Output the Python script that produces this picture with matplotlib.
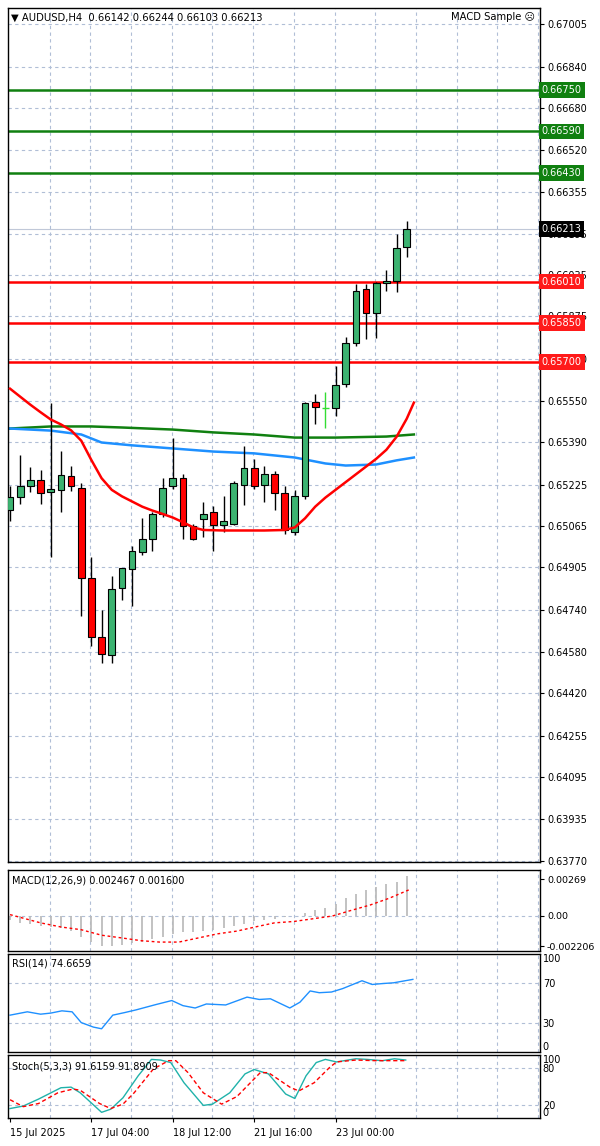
import matplotlib
matplotlib.use("Agg")
import matplotlib.pyplot as plt
from matplotlib.patches import Rectangle

# ---------------- data ----------------
opens  = [0.65129,0.65176,0.65218,0.65245,0.65195,0.65203,0.65257,0.65214,0.64863,0.64635,
          0.64566,0.64825,0.64898,0.64963,0.65017,0.65110,0.65218,0.65249,0.65064,0.65091,
          0.65118,0.65068,0.65075,0.65222,0.65288,0.65222,0.65268,0.65191,0.65044,0.65180,
          0.65543,0.65523,0.65523,0.65616,0.65774,0.65983,0.65890,0.66006,0.66014,0.66142]
highs  = [0.65218,0.65338,0.65292,0.65280,0.65539,0.65357,0.65296,0.65230,0.64944,0.64740,
          0.64871,0.64902,0.64990,0.65098,0.65118,0.65249,0.65404,0.65265,0.65072,0.65160,
          0.65141,0.65180,0.65238,0.65373,0.65326,0.65299,0.65276,0.65218,0.65203,0.65546,
          0.65574,0.65585,0.65682,0.65797,0.66002,0.66002,0.66010,0.66053,0.66195,0.66244]
lows   = [0.65083,0.65149,0.65195,0.65149,0.64944,0.65118,0.65199,0.64716,0.64600,0.64535,
          0.64535,0.64778,0.64755,0.64955,0.64967,0.65100,0.65207,0.65017,0.65010,0.65021,
          0.64967,0.65044,0.65068,0.65145,0.65210,0.65160,0.65126,0.65033,0.65029,0.65170,
          0.65461,0.65445,0.65492,0.65604,0.65759,0.65789,0.65793,0.65972,0.65968,0.66103]
closes = [0.65176,0.65218,0.65245,0.65191,0.65207,0.65261,0.65218,0.64863,0.64635,0.64570,
          0.64821,0.64902,0.64967,0.65017,0.65110,0.65214,0.65249,0.65064,0.65017,0.65110,
          0.65068,0.65083,0.65230,0.65288,0.65218,0.65265,0.65191,0.65048,0.65183,0.65539,
          0.65527,0.65525,0.65612,0.65774,0.65975,0.65890,0.66006,0.66014,0.66141,0.66213]

ma_red_x = [0,1,2,3,4,5,6,7,8,9,10,11,12,13,14,15,16,17,18,19,21,23,25,27,28,29,30,31,32,33,34,35,36,37,38,39,39.7]
ma_red_y = [0.65596,0.65565,0.65534,0.65505,0.65477,0.65458,0.65435,0.65395,0.65320,0.65250,
            0.65205,0.65180,0.65160,0.65140,0.65125,0.65112,0.65098,0.65080,0.65060,0.65050,
            0.65048,0.65048,0.65048,0.65050,0.65060,0.65095,0.65140,0.65175,0.65205,0.65235,
            0.65265,0.65295,0.65325,0.65360,0.65410,0.65480,0.65542]
ma_green_x = [0,4,8,11,16,20,24,28,32,37,39.7]
ma_green_y = [0.65442,0.65450,0.65450,0.65446,0.65438,0.65427,0.65419,0.65407,0.65407,0.65411,0.65419]
ma_blue_x = [0,4,7,9,12,16,20,24,28,31,33,36,38,39.7]
ma_blue_y = [0.65442,0.65434,0.65419,0.65388,0.65377,0.65365,0.65353,0.65346,0.65330,0.65307,
             0.65299,0.65303,0.65319,0.65330]

resist_levels = [0.66750, 0.66590, 0.66430]
support_levels = [0.66010, 0.65850, 0.65700]
price_ticks = [0.67005,0.66840,0.66680,0.66520,0.66355,0.66195,0.66035,0.65875,0.65710,0.65550,
               0.65390,0.65225,0.65065,0.64905,0.64740,0.64580,0.64420,0.64255,0.64095,0.63935,0.63770]

macd_hist = [-0.0003,-0.0005,-0.0006,-0.0007,-0.0008,-0.0009,-0.0011,-0.0015,-0.0019,-0.0022,
             -0.0022,-0.0021,-0.0020,-0.0019,-0.0017,-0.0015,-0.0013,-0.0012,-0.0012,-0.0011,
             -0.0010,-0.0009,-0.0007,-0.0006,-0.0004,-0.0003,-0.0002,-0.0001,0.0000,0.0002,
             0.0004,0.0006,0.0009,0.0013,0.0016,0.0019,0.0021,0.0023,0.0025,0.0029]
macd_sig_x = [0,1,3,5,7,9,11,12.9,14.7,16.6,18.5,20.4,22.3,24.1,26,27.9,29.8,31.7,33.5,35.4,37.3,39.2]
macd_sig_y = [0.0001,-0.0001,-0.0005,-0.0008,-0.0010,-0.0014,-0.0016,-0.0018,-0.0019,-0.0019,
              -0.0016,-0.0013,-0.0011,-0.0008,-0.0005,-0.0004,-0.0002,0.0000,0.0004,0.0008,0.0013,0.0019]

rsi_x = [0,1.7,3,4,5.1,6.1,7,8.2,9,10.1,11.3,12.4,14.3,15.9,17,18.2,19.3,21.2,23.3,24.5,25.6,
         27.5,28.5,29.5,30.4,31.6,32.7,34.6,35.6,36.7,37.7,39.6]
rsi_y = [37.6,41,38.6,39.7,42,41,30,25.4,23.7,37.6,40.3,43,48.3,52.5,47.3,44.9,49,48,56,53.6,54.3,
         44.9,50.8,62.3,60.5,61.2,64.7,72.7,68.9,69.9,70.6,74.1]

st_main_x = [0.0,1.3,2.8,5.0,6.0,6.9,9.0,9.9,11.1,12.6,13.9,14.8,15.8,17.1,19.0,19.9,21.6,23.1,24.0,
             25.4,27.1,28.0,29.1,30.1,31.0,32.1,34.0,35.1,36.6,37.8,38.9]
st_main_v = [15,19,30,48,49,40,9,14,32,67,93,92,88,56,20,22,40,70,77,70,38,31,67,88,93,89,94,93,91,94,92]
st_sig_x = [0.0,1.3,2.8,4.7,6.2,6.9,8.8,9.9,11.1,12.2,14.1,15.6,16.3,17.5,19.0,20.8,22.3,24.6,25.4,
            27.6,28.4,29.9,31.4,32.1,34.0,35.9,37.8,38.9]
st_sig_v = [29,18,23,40,46,44,23,15,22,40,78,91,91,72,40,22,34,72,72,48,43,56,80,89,92,91,91,91]

x_labels = ["15 Jul 2025", "17 Jul 04:00", "18 Jul 12:00", "21 Jul 16:00", "23 Jul 00:00"]
x_label_pos = [0, 8, 16, 24, 32]

# ---------------- layout ----------------
W, H = 600, 1146
fig = plt.figure(figsize=(W/100, H/100), dpi=100, facecolor="white")
plt.rcParams['font.family'] = ['DejaVu Sans']

L, R = 8, 540
def axpix(top, bot):
    return fig.add_axes([L/W, 1-bot/H, (R-L)/W, (bot-top)/H])

XMIN, XMAX = -0.2, 52.1
grid_kw = dict(color="#b0bed6", linestyle=(0, (3, 3)), linewidth=0.8)
vgrid = [i*4 - 0.1 for i in range(1, 14)]

def style(ax):
    ax.set_xlim(XMIN, XMAX)
    ax.set_facecolor("white")
    for s in ax.spines.values():
        s.set_color("black"); s.set_linewidth(1.0)
    ax.yaxis.tick_right()
    ax.tick_params(axis="y", labelsize=7, length=3, pad=2, direction="out")
    ax.tick_params(axis="x", length=0, labelbottom=False)
    for v in vgrid:
        ax.axvline(v, zorder=0, **grid_kw)

# main
ax = axpix(8, 862)
style(ax)
ax.set_ylim(0.63770 - 0.00003, 0.67067)
ax.set_yticks(price_ticks)
ax.set_yticklabels([f"{t:.5f}" for t in price_ticks])
for t in price_ticks:
    ax.axhline(t, zorder=0, **grid_kw)

for i, (o, h, l, c) in enumerate(zip(opens, highs, lows, closes)):
    if abs(c - o) < 0.00004:
        ax.vlines(i, l, h, color="#33dd33", lw=1, zorder=3)
        ax.hlines(o, i-0.35, i+0.35, color="#33dd33", lw=1, zorder=3)
        continue
    ax.vlines(i, l, h, color="black", lw=1, zorder=3)
    col = "#3cb371" if c > o else "#ff0000"
    ax.add_patch(Rectangle((i-0.33, min(o, c)), 0.66, abs(c-o), facecolor=col,
                           edgecolor="black", lw=0.8, zorder=4))

ax.plot(ma_green_x, ma_green_y, color="#108010", lw=1.8, zorder=2)
ax.plot(ma_blue_x, ma_blue_y, color="#1e90ff", lw=1.8, zorder=2)
ax.plot(ma_red_x, ma_red_y, color="#ff0000", lw=1.8, zorder=5)

def level_label(lv, fc):
    ax.text(1.003, lv, f"{lv:.5f}", transform=ax.get_yaxis_transform(), va="center", ha="left",
            fontsize=7, color="white", zorder=10, clip_on=False,
            bbox=dict(boxstyle="square,pad=0.3", fc=fc, ec="none"))

for lv in resist_levels:
    ax.axhline(lv, color="#108010", lw=1.8, zorder=2)
    level_label(lv, "#108010")
for lv in support_levels:
    ax.axhline(lv, color="#ff0000", lw=1.8, zorder=2)
    level_label(lv, "#ff1a1a")
cur = closes[-1]
ax.axhline(cur, color="#c0c8d8", lw=0.8, zorder=1)
level_label(cur, "black")

ax.text(0.005, 0.995, "▼ AUDUSD,H4  0.66142 0.66244 0.66103 0.66213", transform=ax.transAxes,
        va="top", ha="left", fontsize=7.2)
ax.text(0.99, 0.995, "MACD Sample ☹", transform=ax.transAxes, va="top", ha="right", fontsize=7.2)

# MACD
am = axpix(870, 951)
style(am)
am.set_ylim(-0.00255, 0.00335)
am.set_yticks([0.00269, 0.0, -0.002206])
am.set_yticklabels(["0.00269", "0.00", "-0.002206"])
am.tick_params(axis="y", labelsize=6.8)
am.axhline(0, zorder=0, **grid_kw)
am.vlines(range(len(macd_hist)), 0, macd_hist, color="#b8b8b8", lw=1.2, zorder=2)
am.plot(macd_sig_x, macd_sig_y, color="#ff0000", lw=1, linestyle=(0, (2, 2)), zorder=3)
am.text(0.008, 0.93, "MACD(12,26,9) 0.002467 0.001600", transform=am.transAxes, va="top", fontsize=7)

# RSI
ar = axpix(954, 1052)
style(ar)
ar.set_ylim(0, 100)
ar.set_yticks([100, 70, 30, 0])
ar.set_yticklabels(["100", "70", "30", "0"])
ar.tick_params(axis="y", length=0)
tl = ar.get_yticklabels()
tl[0].set_va("top"); tl[-1].set_va("bottom")
for t in [70, 30]:
    ar.axhline(t, zorder=0, **grid_kw)
ar.plot(rsi_x, rsi_y, color="#1e90ff", lw=1)
ar.text(0.008, 0.95, "RSI(14) 74.6659", transform=ar.transAxes, va="top", fontsize=7)

# Stochastic
ast = axpix(1055, 1118)
style(ast)
ast.set_ylim(0, 100)
ast.set_yticks([100, 80, 20, 0])
ast.set_yticklabels(["100", "80", "20", "0"])
ast.tick_params(axis="y", length=0)
tl = ast.get_yticklabels()
tl[0].set_va("top")
tl[-1].set_va("bottom")
for t in [80, 20]:
    ast.axhline(t, zorder=0, **grid_kw)
ast.plot(st_main_x, st_main_v, color="#20b2aa", lw=1)
ast.plot(st_sig_x, st_sig_v, color="#ff0000", lw=1, linestyle=(0, (3, 2)))
ast.text(0.008, 0.9, "Stoch(5,3,3) 91.6159 91.8909", transform=ast.transAxes, va="top", fontsize=7)

ast.set_xticks(x_label_pos)
ast.tick_params(axis="x", length=3, labelbottom=True, labelsize=7, pad=4)
ast.set_xticklabels(x_labels, ha="left")

fig.savefig("out.png", dpi=100, facecolor="white")
